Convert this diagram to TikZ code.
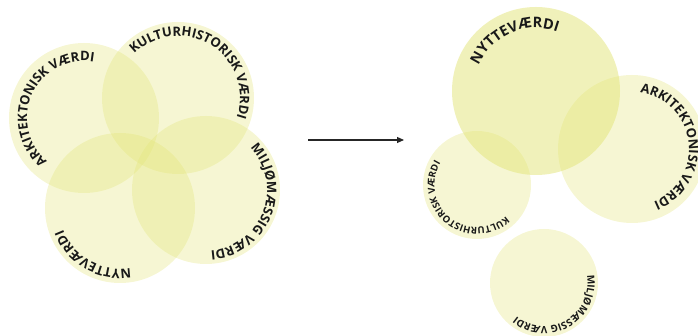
\documentclass[tikz,border=0pt]{standalone}
\usepackage{fontspec}
\newfontfamily\arcfont{Open Sans}
\usetikzlibrary{calc,decorations.text,arrows.meta}

\definecolor{petalfill}{RGB}{226,228,118}
\definecolor{inkdark}{RGB}{25,25,25}

\tikzset{
  petal/.style={circle, draw=none, fill=petalfill, fill opacity=0.32, inner sep=0pt, minimum size=#1},
  strongpetal/.style={petal=#1, fill opacity=0.5},
  flowarrow/.style={-{Triangle[length=7pt,width=6pt]}, line width=1.1pt, draw=black!85}
}

% text set clockwise along the inside of a circle, centred on an angle:
% #1 circle node, #2 baseline radius, #3 middle angle, #4 font size, #5 text
\newcommand\ringlabel[5]{%
  \path[decorate, decoration={text along path, text align=center, text color=inkdark,
      text={|\arcfont\bfseries\fontsize{#4}{#4}\selectfont|#5}}]
    ($(#1.center)+(#3+110:#2)$) arc[start angle=#3+110, end angle=#3-110, radius=#2];
}

\begin{document}
\begin{tikzpicture}[x=1pt,y=1pt]
\useasboundingbox (0,0) rectangle (698,336);
\clip (0,0) rectangle (698,336);

% four overlapping values
\node[petal=150pt] (lark)  at (84,218)  {};
\node[petal=152pt] (lkult) at (178,238) {};
\node[petal=148pt] (lmilj) at (206,146) {};
\node[petal=150pt] (lnyt)  at (120,128) {};

\ringlabel{lark}{57}{155}{13}{ARKITEKTONISK VÆRDI}
\ringlabel{lkult}{62}{58}{13}{KULTURHISTORISK VÆRDI}
\ringlabel{lmilj}{61}{-21}{13}{MILJØMÆSSIG VÆRDI}
\ringlabel{lnyt}{61}{-119.5}{13}{NYTTEVÆRDI}

% arrow
\coordinate (afrom) at (308,196);
\coordinate (ato) at (404,196);
\draw[flowarrow] (afrom) -- (ato);

% weighted values
\node[strongpetal=168pt] (rnyt) at (536,245) {};
\node[petal=148pt] (rark)  at (632,187) {};
\node[petal=108pt] (rkult) at (477,151) {};
\node[petal=108pt] (rmilj) at (544,53)  {};

\ringlabel{rnyt}{63}{113}{14.5}{NYTTEVÆRDI}
\ringlabel{rark}{57}{7}{13}{ARKITEKTONISK VÆRDI}
\ringlabel{rkult}{42.5}{-129}{9.5}{KULTURHISTORISK VÆRDI}
\ringlabel{rmilj}{43.5}{-59.5}{10}{MILJØMÆSSIG VÆRDI}
\end{tikzpicture}
\end{document}
